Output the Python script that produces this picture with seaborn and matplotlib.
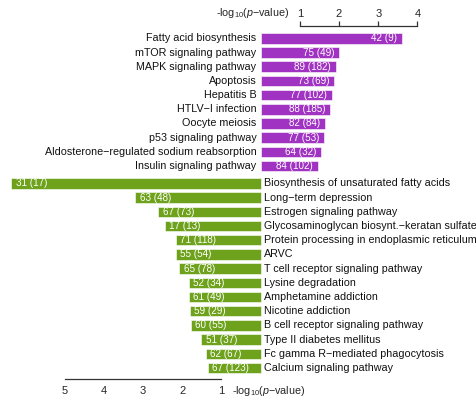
import matplotlib
matplotlib.use("Agg")
import matplotlib.pyplot as plt
import seaborn as sns
import pandas as pd
import numpy as np

# Enriched pathways: up-regulated (purple, right) and down-regulated (green, left)
up_terms = [
    "Fatty acid biosynthesis",
    "mTOR signaling pathway",
    "MAPK signaling pathway",
    "Apoptosis",
    "Hepatitis B",
    "HTLV\u2212I infection",
    "Oocyte meiosis",
    "p53 signaling pathway",
    "Aldosterone\u2212regulated sodium reabsorption",
    "Insulin signaling pathway",
]
up_logp = [3.61, 2.01, 1.92, 1.87, 1.81, 1.77, 1.64, 1.62, 1.54, 1.46]
up_labels = ["42 (9)", "75 (49)", "89 (182)", "73 (69)", "77 (102)",
             "88 (185)", "82 (84)", "77 (53)", "64 (32)", "84 (102)"]

down_terms = [
    "Biosynthesis of unsaturated fatty acids",
    "Long\u2212term depression",
    "Estrogen signaling pathway",
    "Glycosaminoglycan biosynt.\u2212keratan sulfate",
    "Protein processing in endoplasmic reticulum",
    "ARVC",
    "T cell receptor signaling pathway",
    "Lysine degradation",
    "Amphetamine addiction",
    "Nicotine addiction",
    "B cell receptor signaling pathway",
    "Type II diabetes mellitus",
    "Fc gamma R\u2212mediated phagocytosis",
    "Calcium signaling pathway",
]
down_logp = [6.36, 3.20, 2.61, 2.45, 2.16, 2.16, 2.08, 1.83, 1.83, 1.81,
             1.78, 1.51, 1.40, 1.35]
down_labels = ["31 (17)", "63 (48)", "67 (73)", "17 (13)", "71 (118)",
               "55 (54)", "65 (78)", "52 (34)", "61 (49)", "59 (29)",
               "60 (55)", "51 (37)", "62 (67)", "67 (123)"]

up_ticks = [1, 2, 3, 4]
down_ticks = [5, 4, 3, 2, 1]

PURPLE = "#A033C1"
GREEN = "#6FA21C"
GROUP_GAP = 0.22
TERM_SIZE = 7.75
VALUE_SIZE = 7.1
TICK_SIZE = 8.0

up_pos = np.arange(len(up_terms), dtype=float)
down_pos = len(up_terms) + GROUP_GAP + np.arange(len(down_terms), dtype=float)

df = pd.DataFrame({
    "term": up_terms + down_terms,
    "score": list(up_logp) + [-v for v in down_logp],
    "pos": np.concatenate([up_pos, down_pos]),
    "group": ["up"] * len(up_terms) + ["down"] * len(down_terms),
    "label": up_labels + down_labels,
})

sns.set_theme(style="white")
plt.rcParams["font.family"] = ["Liberation Sans", "DejaVu Sans"]
plt.rcParams["mathtext.fontset"] = "custom"
plt.rcParams["mathtext.rm"] = "Liberation Sans"
plt.rcParams["mathtext.it"] = "Liberation Sans:italic"

W, H = 477, 401
fig = plt.figure(figsize=(W / 100, H / 100), dpi=100)

# pixel geometry of the value scale and rows
x0_px, unit_px = 260.6, 39.2
row0_px, row_px = 38.3, 14.2
xlim = ((0 - x0_px) / unit_px, (W - x0_px) / unit_px)
ylim = ((H - row0_px) / row_px, (0 - row0_px) / row_px)

ax = fig.add_axes([0, 0, 1, 1])
sns.barplot(data=df, x="score", y="pos", hue="group",
            palette={"up": PURPLE, "down": GREEN}, orient="h",
            native_scale=True, dodge=False, width=0.74, legend=False,
            saturation=1, edgecolor="white", linewidth=0.4, ax=ax)
ax.set_xlim(*xlim)
ax.set_ylim(*ylim)
ax.axis("off")

for _, r in df.iterrows():
    if r["group"] == "up":
        ax.annotate(r["term"], (0, r["pos"]), xytext=(-3.0, 0),
                    textcoords="offset points", ha="right", va="center",
                    fontsize=TERM_SIZE, color="#111111")
        ax.annotate(r["label"], (r["score"], r["pos"]), xytext=(-3.4, 0),
                    textcoords="offset points", ha="right", va="center",
                    fontsize=VALUE_SIZE, color="white")
    else:
        ax.annotate(r["term"], (0, r["pos"]), xytext=(2.4, 0),
                    textcoords="offset points", ha="left", va="center",
                    fontsize=TERM_SIZE, color="#111111")
        ax.annotate(r["label"], (r["score"], r["pos"]), xytext=(3.2, 0),
                    textcoords="offset points", ha="left", va="center",
                    fontsize=VALUE_SIZE, color="white")

axis_title = r"-log$_{10}$($\it{p}$" + "\u2212value)"


def bracket_axis(y_px, side, ticks, values):
    """Thin axes holding only a bracket-shaped scale line with ticks."""
    sub = fig.add_axes([0, 1 - y_px / H, 1, 1e-4])
    sub.set_xlim(*xlim)
    sub.set_facecolor("none")
    for s in ["left", "right", "top", "bottom"]:
        sub.spines[s].set_visible(s == side)
    sub.spines[side].set_bounds(min(values), max(values))
    sub.spines[side].set_color("#333333")
    sub.spines[side].set_linewidth(0.9)
    if side == "top":
        sub.xaxis.tick_top()
    sub.set_xticks(values)
    sub.set_xticklabels([str(t) for t in ticks])
    sub.tick_params(axis="x", direction="out", length=3.8, width=0.9,
                    color="#333333", pad=1.5, labelsize=TICK_SIZE)
    sub.set_yticks([])
    return sub


# top scale (up-regulated): ticks point up
top_ax = bracket_axis(26, "top", up_ticks, up_ticks)
top_ax.annotate(axis_title, (up_ticks[0], 0), xycoords=("data", "axes fraction"),
                xytext=(-7.5, 9), textcoords="offset points",
                ha="right", va="center", fontsize=TERM_SIZE)

# bottom scale (down-regulated): ticks point down, values mirrored
bot_ax = bracket_axis(379, "bottom", down_ticks, [-t for t in down_ticks])
bot_ax.annotate(axis_title, (-down_ticks[-1], 0), xycoords=("data", "axes fraction"),
                xytext=(7.5, -8.5), textcoords="offset points",
                ha="left", va="center", fontsize=TERM_SIZE)

fig.savefig("out.png", dpi=100, facecolor="white")
